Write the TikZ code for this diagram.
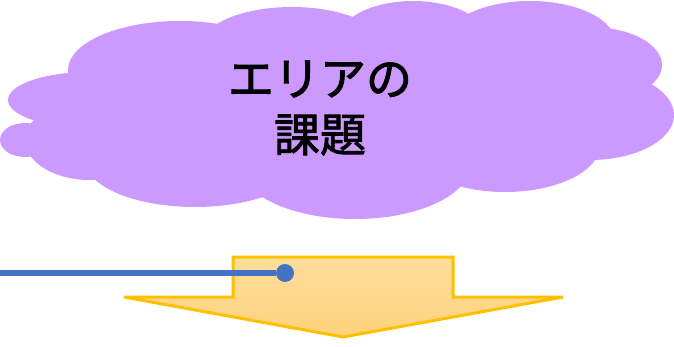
\documentclass[tikz,border=0pt]{standalone}
\usepackage{fontspec}
\newfontfamily\jpfont[FakeBold=2]{Noto Sans CJK JP}
\definecolor{cloudpurple}{RGB}{204,153,255}
\definecolor{arrowline}{RGB}{255,192,0}
\definecolor{arrowtop}{RGB}{253,221,156}
\definecolor{arrowbot}{RGB}{255,211,125}
\definecolor{linkblue}{RGB}{68,114,196}
\tikzset{
  cloudpart/.style={fill=cloudpurple},
  titletext/.style={font=\jpfont\fontsize{46}{56}\selectfont, align=center, inner sep=0pt},
  arrowshape/.style={draw=arrowline, line width=3pt, top color=arrowtop, bottom color=arrowbot},
  linkline/.style={draw=linkblue, line width=6pt},
  linkdot/.style={circle, fill=linkblue, minimum size=18pt, inner sep=0pt}
}
\begin{document}
\begin{tikzpicture}[x=1pt,y=-1pt]
\useasboundingbox (0,0) rectangle (674,347);
%cloud
\foreach \cx/\cy/\rx/\ry in {340/110/260/75, 90/100/82/28, 180/70/112/49, 292/45/90/38,
  413/40/75/39, 530/42/85/41, 590/65/72/38, 590/115/84/45, 505/145/95/47,
  355/165/115/54, 195/160/110/47, 90/140/65/40, 25/140/25/17}
  {\fill[cloudpart] (\cx,\cy) ellipse [x radius=\rx, y radius=\ry];}
%title
\node[titletext] (title) at (320,108) {エリアの\\課題};
%arrow
\draw[arrowshape] (233,257)--(453,257)--(453,297)--(563,297)--(343,337)--(124,297)--(233,297)--cycle;
%link
\coordinate (linkstart) at (0,273);
\node[linkdot] (linkend) at (285,273) {};
\draw[linkline] (linkstart) -- (linkend);
\end{tikzpicture}
\end{document}
